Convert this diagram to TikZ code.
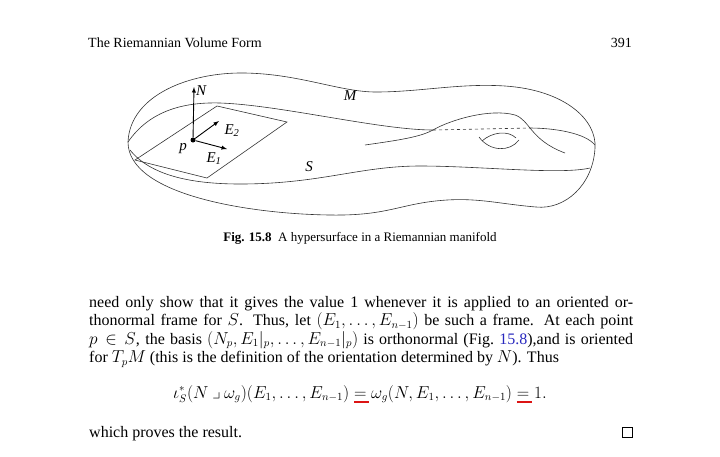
\documentclass[tikz,border=0pt]{standalone}
\usepackage{amsmath}
\usepackage{amssymb}
\usepackage{fontspec}
\setmainfont{Liberation Serif}
\usepackage{tikz}
\usetikzlibrary{arrows}
\usetikzlibrary{positioning}
\definecolor{reflink}{RGB}{40,40,190}
\definecolor{markred}{RGB}{220,20,20}
\tikzset{surf/.style={draw=black!80,line width=0.6pt}}
\tikzset{vec/.style={->,>=latex,line width=0.9pt}}
\tikzset{lbl/.style={inner sep=1pt,font=\fontsize{15}{17}\selectfont\itshape}}
\tikzset{body/.style={anchor=base west,inner sep=0pt,text width=544pt,align=justify,font=\fontsize{16}{18.5}\selectfont}}
\newcommand\redeq{\mathrel{\rlap{\textcolor{markred}{\rule[-5pt]{15pt}{1.8pt}}}{=}}}
\begin{document}
\begin{tikzpicture}[x=1pt,y=-1pt]
		\useasboundingbox (0,0) rectangle (720,456);
		\node[anchor=base west,inner sep=0pt,font=\fontsize{14}{16}\selectfont] (head) at (88,47) {The Riemannian Volume Form};
		\node[anchor=base east,inner sep=0pt,font=\fontsize{14}{16}\selectfont] (page) at (632,47) {391};
		% the ambient manifold and the hypersurface
		\draw[surf] (128,142) .. controls (130,95) and (190,72) .. (245,73)
			.. controls (300,74) and (340,92) .. (376,92)
			.. controls (420,92) and (460,83) .. (505,86)
			.. controls (565,90) and (597,120) .. (595,148)
			.. controls (593,185) and (565,210) .. (536,207)
			.. controls (500,204) and (480,198) .. (447,200)
			.. controls (400,203) and (390,216) .. (330,215)
			.. controls (250,214) and (128,195) .. (128,142) -- cycle;
		\draw[surf] (128,142) .. controls (150,110) and (185,102) .. (220,103)
			.. controls (280,105) and (380,130) .. (433,130);
		\draw[surf,dashed] (433,130) -- (529,128);
		\draw[surf] (529,128) .. controls (555,128) and (585,133) .. (595,145);
		\draw[surf] (130,150) .. controls (150,175) and (190,184) .. (240,184)
			.. controls (320,184) and (360,166) .. (420,166)
			.. controls (480,166) and (560,175) .. (590,168);
		\draw[surf] (365,145) .. controls (400,140) and (420,137) .. (433,130)
			.. controls (450,120) and (490,108) .. (515,115)
			.. controls (530,120) and (530,140) .. (565,153);
		\draw[surf] (479,137) .. controls (490,152) and (510,152) .. (519,140);
		\draw[surf] (482,141) .. controls (492,132) and (508,130) .. (516,138);
		% tangent plane and frame
		\coordinate (t1) at (135,160);
		\coordinate (t2) at (217,106);
		\coordinate (t3) at (287,122);
		\coordinate (t4) at (207,178);
		\draw[surf] (t1) -- (t2) -- (t3) -- (t4) -- cycle;
		\node[circle,fill=black,inner sep=0pt,minimum size=5pt] (p) at (193,140) {};
		\coordinate (n) at (194,87);
		\coordinate (e2) at (219,121);
		\coordinate (e1) at (227,149);
		\draw[vec] (p) -- (n);
		\draw[vec] (p) -- (e2);
		\draw[vec] (p) -- (e1);
		\node[lbl,right=1pt of n,yshift=-4pt] (nlab) {N};
		\node[lbl] (e2lab) at (232,131) {E\textsubscript{2}};
		\node[lbl] (e1lab) at (214,159) {E\textsubscript{1}};
		\node[lbl] (plab) at (183,149) {p};
		\node[lbl] (mlab) at (350,96) {M};
		\node[lbl] (slab) at (309,167) {S};
		\node[anchor=base,inner sep=0pt,font=\fontsize{13}{15}\selectfont] (cap) at (360,241) {\textbf{Fig. 15.8}\enspace A hypersurface in a Riemannian manifold};
		% running text
		\node[body] (par) at (89,307) {need only show that it gives the value 1 whenever it is applied to an oriented or-\linebreak
			thonormal frame for $S$. Thus, let $(E_1,\ldots,E_{n-1})$ be such a frame. At each point\linebreak
			$p\in S$, the basis $(N_p,E_1|_p,\ldots,E_{n-1}|_p)$ is orthonormal (Fig.~\textcolor{reflink}{15.8}),and is oriented\linebreak
			for $T_pM$ (this is the definition of the orientation determined by $N$). Thus};
		\node[anchor=base,inner sep=0pt,font=\fontsize{16}{18.5}\selectfont] (eq) at (360,398) {$\iota_S^*(N\mathbin{\lrcorner}\omega_g)(E_1,\ldots,E_{n-1})\redeq\omega_g(N,E_1,\ldots,E_{n-1})\redeq 1.$};
		\node[anchor=base west,inner sep=0pt,font=\fontsize{16}{18.5}\selectfont] (last) at (89,437) {which proves the result.};
		\node[draw,inner sep=0pt,minimum size=10pt,line width=0.5pt,anchor=south east] (qed) at (632,437) {};
	\end{tikzpicture}
\end{document}
